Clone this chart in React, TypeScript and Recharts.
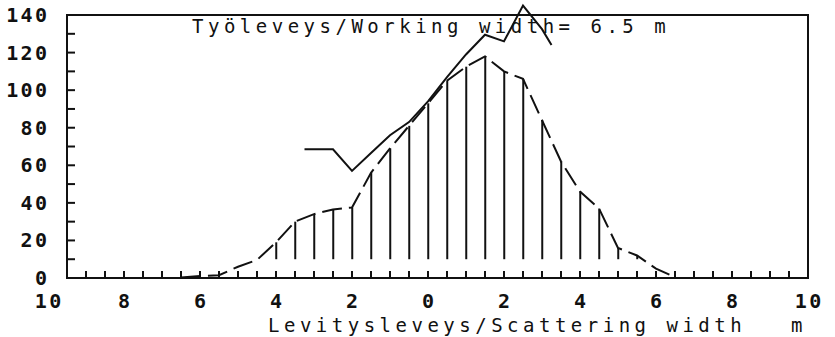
import {
  Bar,
  ComposedChart,
  Line,
  ReferenceArea,
  ReferenceDot,
  XAxis,
  YAxis,
} from 'recharts';

// distance from the spreader centre line (m), left side negative
const X_POS = [
  -6.5, -6, -5.5, -5, -4.5, -4, -3.5, -3, -2.5, -2, -1.5, -1, -0.5, 0, 0.5, 1,
  1.5, 2, 2.5, 3, 3.5, 4, 4.5, 5, 5.5, 6, 6.5,
];
// single-pass scattering distribution (dashed)
const DISTRIBUTION = [
  0.3, 1, 1.5, 6, 9.6, 19, 30, 34, 36.5, 37.5, 56, 69, 81, 93, 105, 112.5,
  118, 110, 106, 84, 62, 46, 37, 16, 12, 5, 0.5,
];
// overlapped sum at working width 6.5 m (solid)
const SUM_X = [-3.25, -3, -2.5, -2, -1.5, -1, -0.5, 0, 0.5, 1, 1.5, 2, 2.5, 3, 3.25];
const SUM_VALUES = [68.5, 68.5, 68.5, 57, 66.5, 76, 83, 94, 107, 119, 129.5, 126, 145, 132.5, 124];

const X_LABELS = [-10, -8, -6, -4, -2, 0, 2, 4, 6, 8, 10];
const Y_LABELS = [0, 20, 40, 60, 80, 100, 120, 140];
const HATCH_BASE = 10;

const X_MINOR: number[] = [];
for (let i = 0; i <= 39; i++) X_MINOR.push(-9.5 + i * 0.5);
const Y_MINOR: number[] = [];
for (let i = 0; i <= 14; i++) Y_MINOR.push(i * 10);

const data = X_POS.map((x, i) => ({
  x,
  dist: DISTRIBUTION[i],
  hatch: DISTRIBUTION[i] > HATCH_BASE ? [HATCH_BASE, DISTRIBUTION[i]] : null,
}));
const sumData = SUM_X.map((x, i) => ({ x, sum: SUM_VALUES[i] }));

const INK = '#111';
const FONT = '"DejaVu Sans Mono", monospace';

const labelStyle = {
  fontFamily: FONT,
  fontSize: 20,
  fontWeight: 700,
  letterSpacing: 2.4,
  fill: INK,
};

function XTick(props: any) {
  const { x, y, payload } = props;
  const v = payload.value;
  return (
    <g>
      {v < 10 && <line x1={x} x2={x} y1={y} y2={y - 7} stroke={INK} strokeWidth={2} />}
      {X_LABELS.includes(v) && (
        <text x={x + 1.2} y={y + 30} textAnchor="middle" style={labelStyle}>
          {Math.abs(v)}
        </text>
      )}
    </g>
  );
}

function YTick(props: any) {
  const { x, y, payload } = props;
  const v = payload.value;
  return (
    <g>
      <line x1={x} x2={x + 8} y1={y} y2={y} stroke={INK} strokeWidth={2} />
      {Y_LABELS.includes(v) && (
        <text x={x - 17.5} y={y + 7} textAnchor="end" style={labelStyle}>
          {v}
        </text>
      )}
    </g>
  );
}

function OuterLabel(props: any) {
  const { cx, cy } = props;
  return (
    <text x={cx + 1.2} y={cy + 30} textAnchor="middle" style={labelStyle}>
      10
    </text>
  );
}

const textStyle = {
  fontFamily: FONT,
  fontSize: 19,
  letterSpacing: 4.5,
  fill: INK,
};

export default function App() {
  return (
    <div style={{ position: 'absolute', left: 0, top: 0, width: 835, height: 337, background: '#fff' }}>
      <ComposedChart
        width={835}
        height={337}
        data={data}
        margin={{ top: 0, right: 27, bottom: 0, left: 0 }}
      >
        <XAxis
          type="number"
          dataKey="x"
          domain={[-9.5, 10]}
          ticks={X_MINOR}
          interval={0}
          height={59}
          tickLine={false}
          axisLine={false}
          tickSize={0}
          tickMargin={0}
          tick={<XTick />}
        />
        <YAxis
          type="number"
          domain={[0, 148]}
          ticks={Y_MINOR}
          interval={0}
          width={67}
          tickLine={false}
          axisLine={false}
          tickSize={0}
          tickMargin={0}
          tick={<YTick />}
        />
        <ReferenceArea
          x1={-9.5}
          x2={10}
          y1={0}
          y2={140}
          fill="none"
          stroke={INK}
          strokeWidth={2}
        />
        <ReferenceDot x={-10} y={0} r={0} ifOverflow="visible" shape={<OuterLabel />} />
        <Bar dataKey="hatch" barSize={2} fill={INK} isAnimationActive={false} />
        <Line
          type="linear"
          dataKey="dist"
          stroke={INK}
          strokeWidth={2}
          strokeDasharray="20 7"
          dot={false}
          activeDot={false}
          isAnimationActive={false}
        />
        <Line
          type="linear"
          data={sumData}
          dataKey="sum"
          stroke={INK}
          strokeWidth={2}
          dot={false}
          activeDot={false}
          isAnimationActive={false}
        />
      </ComposedChart>
      <svg
        width={835}
        height={337}
        style={{ position: 'absolute', left: 0, top: 0, pointerEvents: 'none' }}
      >
        <text x={192} y={33} style={textStyle}>
          Työleveys/Working width= 6.5 m
        </text>
        <text x={268} y={332} style={textStyle}>
          Levitysleveys/Scattering width
        </text>
        <text x={791} y={332} style={textStyle}>
          m
        </text>
      </svg>
    </div>
  );
}
